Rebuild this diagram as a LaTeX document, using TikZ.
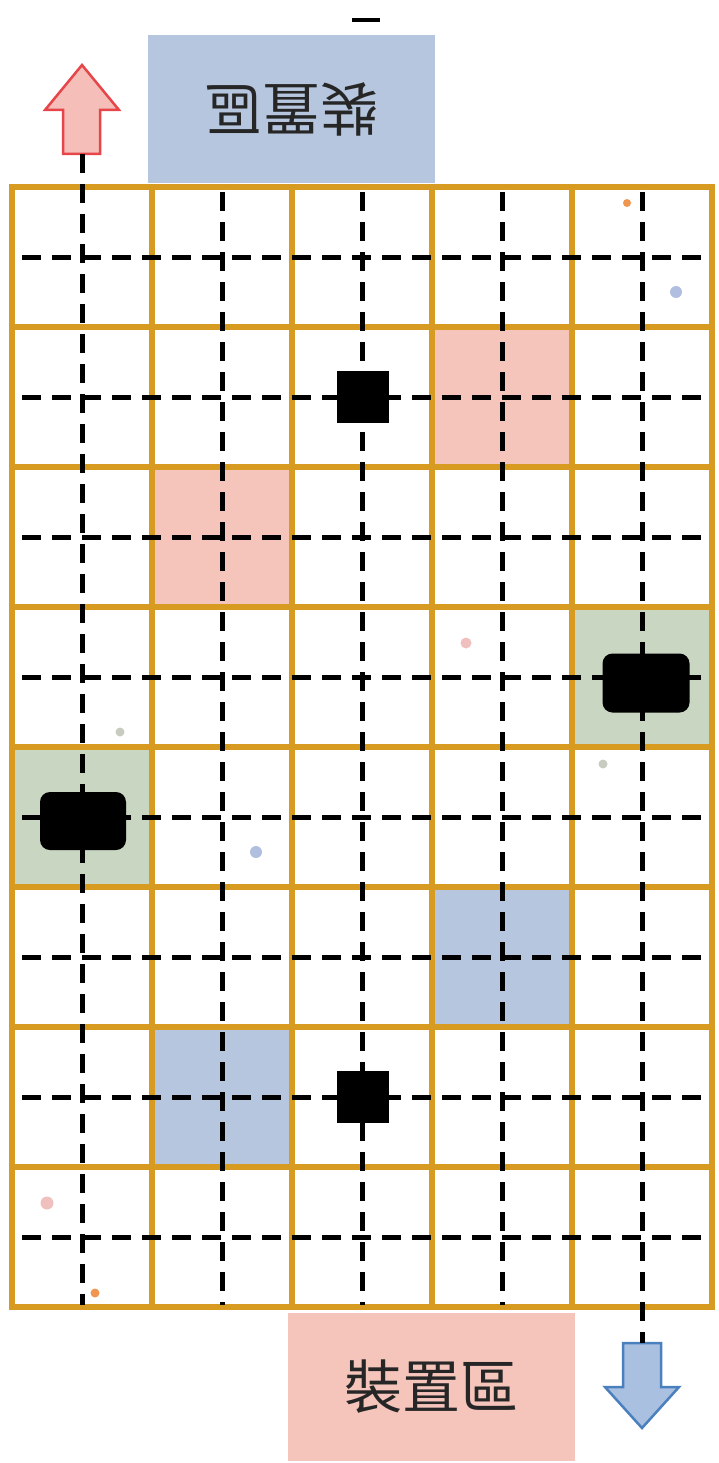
\documentclass[tikz,border=0pt]{standalone}
\usepackage{fontspec}
\newfontfamily\cjk{Noto Sans CJK TC}
\usetikzlibrary{positioning}
\definecolor{railor}{RGB}{214,155,32}
\definecolor{zoneblue}{RGB}{182,198,222}
\definecolor{zonepink}{RGB}{245,197,187}
\definecolor{zonegreen}{RGB}{201,214,194}
\definecolor{arrred}{RGB}{230,70,74}
\definecolor{arrredfill}{RGB}{245,190,184}
\definecolor{arrblue}{RGB}{74,128,190}
\definecolor{arrbluefill}{RGB}{169,192,224}
\definecolor{dotor}{RGB}{240,150,80}
\definecolor{dotblue}{RGB}{176,190,224}
\definecolor{dotpink}{RGB}{240,192,190}
\definecolor{dotgrey}{RGB}{200,204,192}

\begin{document}
\begin{tikzpicture}[x=1pt, y=-1pt,
  cell/.style={minimum size=140pt, inner sep=0pt},
  zone/.style={minimum width=287pt, minimum height=148pt, inner sep=0pt,
    font=\cjk\fontsize{58}{60}\selectfont, text=black!85},
  rail/.style={railor, line width=6pt},
  guide/.style={line width=5pt, dash pattern=on 19pt off 11pt},
  block/.style={fill=black, inner sep=0pt},
  dot/.style={circle, inner sep=0pt, minimum size=#1},
  dot/.default=11pt]
  \useasboundingbox (0,0) rectangle (718,1463);

  % device zones
  \node[zone, fill=zoneblue, rotate=180] (ztop) at (291.5,109) {裝置區};
  \node[zone, fill=zonepink] (zbot) at (431.5,1386.5) {裝置區};
  \draw[line width=4pt] (352,20) -- (380,20);

  % coloured cells
  \node[cell, fill=zonepink] (p1) at (502,397) {};
  \node[cell, fill=zonepink] (p2) at (222,537) {};
  \node[cell, fill=zonegreen] (g1) at (642,677) {};
  \node[cell, fill=zonegreen] (g2) at (82,817) {};
  \node[cell, fill=zoneblue] (q1) at (502,957) {};
  \node[cell, fill=zoneblue] (q2) at (222,1097) {};

  % grid
  \foreach \i in {1,...,4}
    \draw[rail] (12+140*\i,187) -- (12+140*\i,1307);
  \foreach \j in {1,...,7}
    \draw[rail] (12,187+140*\j) -- (712,187+140*\j);
  \draw[rail] (12,187) rectangle (712,1307);

  % arrows
  \coordinate (upfoot) at (82,154);
  \coordinate (downtop) at (642,1343);
  \draw[arrred, fill=arrredfill, line width=2.5pt, line join=miter]
    (63,154) -- (63,110) -- (45,110) -- (82,65) -- (119,110) -- (100,110) -- (100,154) -- cycle;
  \draw[arrblue, fill=arrbluefill, line width=2.5pt, line join=miter]
    (623,1343) -- (623,1387) -- (605,1387) -- (642,1428) -- (679,1387) -- (661,1387) -- (661,1343) -- cycle;

  % dashed guides
  \draw[guide] (upfoot) -- (82,1305);
  \foreach \i in {1,2,3}
    \draw[guide] (82+140*\i,192) -- (82+140*\i,1305);
  \draw[guide] (642,192) -- (downtop);
  \foreach \j in {0,...,7}
    \draw[guide] (22,257+140*\j) -- (705,257+140*\j);

  % obstacles
  \node[block, minimum size=52pt] (sq1) at (363,397) {};
  \node[block, minimum size=52pt] (sq2) at (363,1097) {};
  \node[block, rounded corners=10pt, minimum width=87pt, minimum height=59pt] (rb1) at (646,683) {};
  \node[block, rounded corners=10pt, minimum width=86pt, minimum height=58pt] (rb2) at (83,821) {};

  % small dots
  \node[dot=8pt, fill=dotor] (d1) at (627,203) {};
  \node[dot=12pt, fill=dotblue] (d2) at (676,292) {};
  \node[dot, fill=dotpink] (d3) at (466,643) {};
  \node[dot=9pt, fill=dotgrey] (d4) at (120,732) {};
  \node[dot=9pt, fill=dotgrey] (d5) at (603,764) {};
  \node[dot=12pt, fill=dotblue] (d6) at (256,852) {};
  \node[dot=13pt, fill=dotpink] (d7) at (47,1203) {};
  \node[dot=9pt, fill=dotor] (d8) at (95,1293) {};
\end{tikzpicture}
\end{document}
